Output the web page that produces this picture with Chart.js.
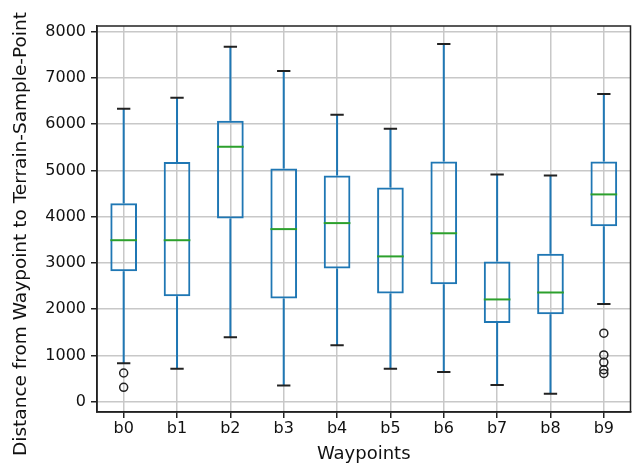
<!DOCTYPE html>
<html>
<head>
<meta charset="utf-8">
<script src="https://cdn.jsdelivr.net/npm/chart.js@4.4.1/dist/chart.umd.min.js"></script>
<style>
html,body{margin:0;padding:0;background:#fff;}
#wrap{width:636px;height:465px;}
</style>
</head>
<body>
<div id="wrap"><canvas id="c" width="636" height="465"></canvas></div>
<script>
const categories = ['b0','b1','b2','b3','b4','b5','b6','b7','b8','b9'];
const whiskerHigh = [6330, 6570, 7670, 7150, 6200, 5900, 7730, 4910, 4890, 6650];
const q3Values    = [4290, 5180, 6070, 5040, 4890, 4630, 5190, 3030, 3200, 5190];
const medians     = [3490, 3490, 5510, 3730, 3860, 3140, 3640, 2210, 2360, 4480];
const q1Values    = [2820, 2280, 3960, 2230, 2880, 2340, 2540, 1700, 1890, 3790];
const whiskerLow  = [830, 710, 1390, 350, 1220, 710, 640, 360, 170, 2110];
const outlierCats = ['b0','b0','b9','b9','b9','b9','b9'];
const outlierVals = [620, 310, 1480, 1010, 850, 690, 610];
const yTicks = [0, 1000, 2000, 3000, 4000, 5000, 6000, 7000, 8000];
const xTitle = 'Waypoints';
const yTitle = 'Distance from Waypoint to Terrain-Sample-Point';

const FONT = 'DejaVu Sans';
Chart.defaults.font.family = FONT;
Chart.defaults.color = '#000';

const boxPlugin = {
  id: 'boxParts',
  afterDatasetsDraw(chart) {
    const ctx = chart.ctx;
    const xs = chart.scales.x, ys = chart.scales.y;
    const meta = chart.getDatasetMeta(0);
    ctx.save();
    ctx.lineCap = 'butt';
    categories.forEach((c, i) => {
      const x = xs.getPixelForValue(i);
      const bw = meta.data[i].width;
      const capW = bw / 2;
      const yHi = ys.getPixelForValue(whiskerHigh[i]);
      const yQ3 = ys.getPixelForValue(q3Values[i]);
      const yQ1 = ys.getPixelForValue(q1Values[i]);
      const yLo = ys.getPixelForValue(whiskerLow[i]);
      const yMed = ys.getPixelForValue(medians[i]);
      ctx.strokeStyle = '#1f77b4';
      ctx.lineWidth = 2;
      ctx.beginPath();
      ctx.moveTo(x, yQ3); ctx.lineTo(x, yHi);
      ctx.moveTo(x, yQ1); ctx.lineTo(x, yLo);
      ctx.stroke();
      ctx.strokeStyle = '#222';
      ctx.beginPath();
      ctx.moveTo(x - capW / 2, yHi); ctx.lineTo(x + capW / 2, yHi);
      ctx.moveTo(x - capW / 2, yLo); ctx.lineTo(x + capW / 2, yLo);
      ctx.stroke();
      ctx.strokeStyle = '#2ca02c';
      ctx.beginPath();
      ctx.moveTo(x - bw / 2, yMed); ctx.lineTo(x + bw / 2, yMed);
      ctx.stroke();
    });
    const a = chart.chartArea;
    ctx.strokeStyle = '#222';
    ctx.lineWidth = 1.5;
    ctx.strokeRect(a.left, a.top, a.right - a.left, a.bottom - a.top);
    ctx.restore();
  },
  afterDraw(chart) {
    const ctx = chart.ctx;
    ctx.save();
    ctx.translate(21, 234);
    ctx.rotate(-Math.PI / 2);
    ctx.font = '18.5px "DejaVu Sans"';
    ctx.fillStyle = '#111';
    ctx.textAlign = 'center';
    ctx.textBaseline = 'middle';
    ctx.fillText(yTitle, 0, 0);
    ctx.restore();
  }
};

new Chart(document.getElementById('c'), {
  type: 'bar',
  data: {
    labels: categories,
    datasets: [
      {
        type: 'bar',
        data: categories.map((c, i) => [q1Values[i], q3Values[i]]),
        backgroundColor: 'rgba(0,0,0,0)',
        borderColor: '#1f77b4',
        borderWidth: 2,
        borderSkipped: false,
        barPercentage: 0.5,
        categoryPercentage: 1.0,
        order: 2
      },
      {
        type: 'line',
        data: outlierCats.map((c, i) => ({ x: c, y: outlierVals[i] })),
        showLine: false,
        pointRadius: 4,
        pointBackgroundColor: 'rgba(0,0,0,0)',
        pointBorderColor: '#222',
        pointBorderWidth: 1.5,
        order: 1
      }
    ]
  },
  plugins: [boxPlugin],
  options: {
    responsive: false,
    animation: false,
    devicePixelRatio: 1,
    layout: { padding: { top: 26, right: 4, left: 0, bottom: 0 } },
    plugins: { legend: { display: false }, tooltip: { enabled: false } },
    scales: {
      x: {
        offset: true,
        grid: { offset: false, color: '#c8c8c8', lineWidth: 1.5, tickLength: 6, tickColor: '#222', tickWidth: 1.5 },
        border: { color: '#222', width: 1.5 },
        ticks: { font: { size: 16 }, padding: 1, color: '#111', maxRotation: 0 },
        title: { display: true, text: xTitle, font: { size: 18 }, padding: { top: 0, bottom: 0 }, color: '#111' },
        afterFit(s) { s.height = 53; }
      },
      y: {
        min: -223,
        max: 8120,
        grid: { color: '#c8c8c8', lineWidth: 1.5, tickLength: 6, tickColor: '#222', tickWidth: 1.5 },
        border: { color: '#222', width: 1.5 },
        ticks: { font: { size: 16 }, padding: 5, color: '#111', callback: (v) => String(v) },
        afterBuildTicks(s) { s.ticks = yTicks.map(v => ({ value: v })); },
        title: { display: false },
        afterFit(s) { s.width = 97; }
      }
    }
  }
});
</script>
</body>
</html>
